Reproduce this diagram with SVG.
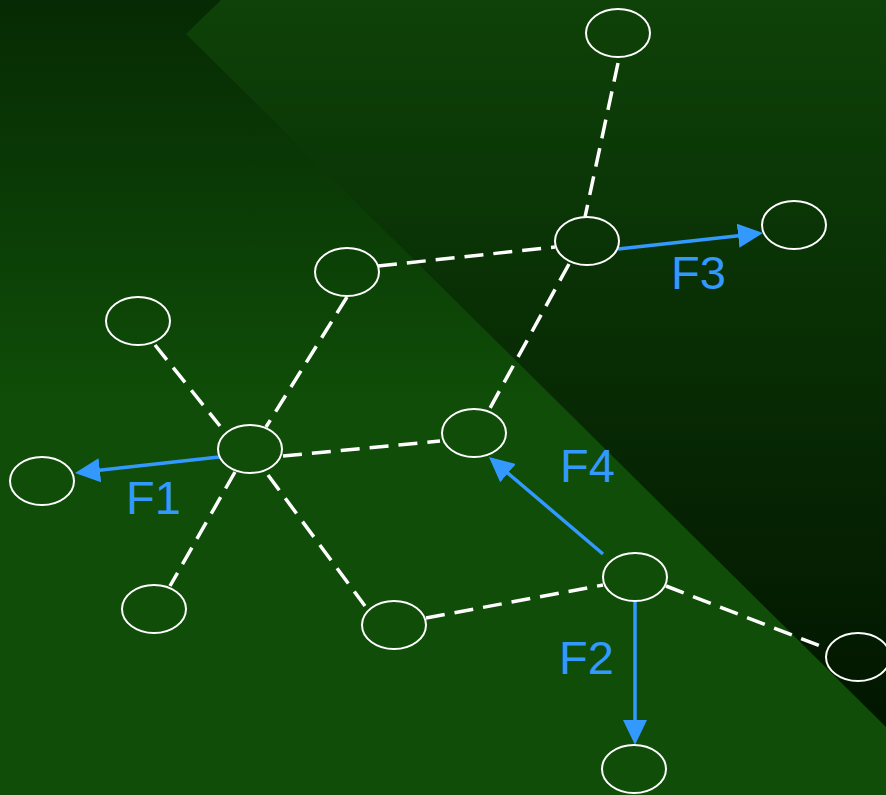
<svg xmlns="http://www.w3.org/2000/svg" width="886" height="795" viewBox="0 0 886 795">
<defs>
<linearGradient id="bgMain" gradientUnits="userSpaceOnUse" x1="0" y1="0" x2="0" y2="400">
<stop offset="0" stop-color="#062a03"/>
<stop offset="1" stop-color="#0f4d08"/>
</linearGradient>
<linearGradient id="bgDark" gradientUnits="userSpaceOnUse" x1="0" y1="0" x2="0" y2="727">
<stop offset="0" stop-color="#0e4208"/>
<stop offset="1" stop-color="#021600"/>
</linearGradient>
<marker id="arrow" markerUnits="userSpaceOnUse" viewBox="0 0 25 24" refX="21" refY="12" markerWidth="25" markerHeight="24" orient="auto">
<path d="M0,0 L25,12 L0,24 Z" fill="#3399ff"/>
</marker>
<style>
.node ellipse { fill: none; stroke: #ffffff; stroke-width: 2; }
.dash { stroke: #ffffff; stroke-width: 3.5; stroke-dasharray: 19 10; fill: none; }
.flow { stroke: #3399ff; stroke-width: 3.5; fill: none; marker-end: url(#arrow); }
.lbl { font-family: "Liberation Sans", Arial, sans-serif; font-size: 47px; fill: #3399ff; }
</style>
</defs>
<rect x="0" y="0" width="886" height="795" fill="url(#bgMain)"/>
<polygon points="186,34 221,0 886,0 886,727" fill="url(#bgDark)"/>

<g id="connectors">
<line class="dash" x1="618" y1="63" x2="585" y2="217"/>
<line class="dash" x1="378" y1="266" x2="555" y2="247"/>
<line class="dash" x1="569" y1="264" x2="489" y2="410"/>
<line class="dash" x1="347" y1="297" x2="266" y2="427"/>
<line class="dash" x1="155" y1="345" x2="220" y2="426"/>
<line class="dash" x1="283" y1="456" x2="440" y2="441"/>
<line class="dash" x1="235" y1="472" x2="170" y2="586"/>
<line class="dash" x1="268" y1="475" x2="365" y2="606"/>
<line class="dash" x1="426" y1="618" x2="603" y2="585"/>
<line class="dash" x1="666" y1="586" x2="828" y2="649"/>
<line class="flow" x1="219" y1="457" x2="79" y2="472.6"/>
<line class="flow" x1="635" y1="600" x2="635" y2="741"/>
<line class="flow" x1="618" y1="249" x2="759" y2="233.4"/>
<line class="flow" x1="603" y1="554" x2="492" y2="459.6"/>
</g>

<g id="n1" class="node"><ellipse cx="618" cy="33" rx="32" ry="24"/></g>
<g id="n2" class="node"><ellipse cx="587" cy="241" rx="32" ry="24"/></g>
<g id="n3" class="node"><ellipse cx="794" cy="225" rx="32" ry="24"/></g>
<g id="n4" class="node"><ellipse cx="347" cy="272" rx="32" ry="24"/></g>
<g id="n5" class="node"><ellipse cx="138" cy="321" rx="32" ry="24"/></g>
<g id="n6" class="node"><ellipse cx="250" cy="449" rx="32" ry="24"/></g>
<g id="n7" class="node"><ellipse cx="474" cy="433" rx="32" ry="24"/></g>
<g id="n8" class="node"><ellipse cx="42" cy="481" rx="32" ry="24"/></g>
<g id="n9" class="node"><ellipse cx="154" cy="609" rx="32" ry="24"/></g>
<g id="n10" class="node"><ellipse cx="394" cy="625" rx="32" ry="24"/></g>
<g id="n11" class="node"><ellipse cx="635" cy="577" rx="32" ry="24"/></g>
<g id="n12" class="node"><ellipse cx="858" cy="657" rx="32" ry="24"/></g>
<g id="n13" class="node"><ellipse cx="634" cy="769" rx="32" ry="24"/></g>

<g id="labels">
<text class="lbl" x="126" y="514">F1</text>
<text class="lbl" x="559" y="674">F2</text>
<text class="lbl" x="671" y="289">F3</text>
<text class="lbl" x="560" y="482">F4</text>
</g>
</svg>
